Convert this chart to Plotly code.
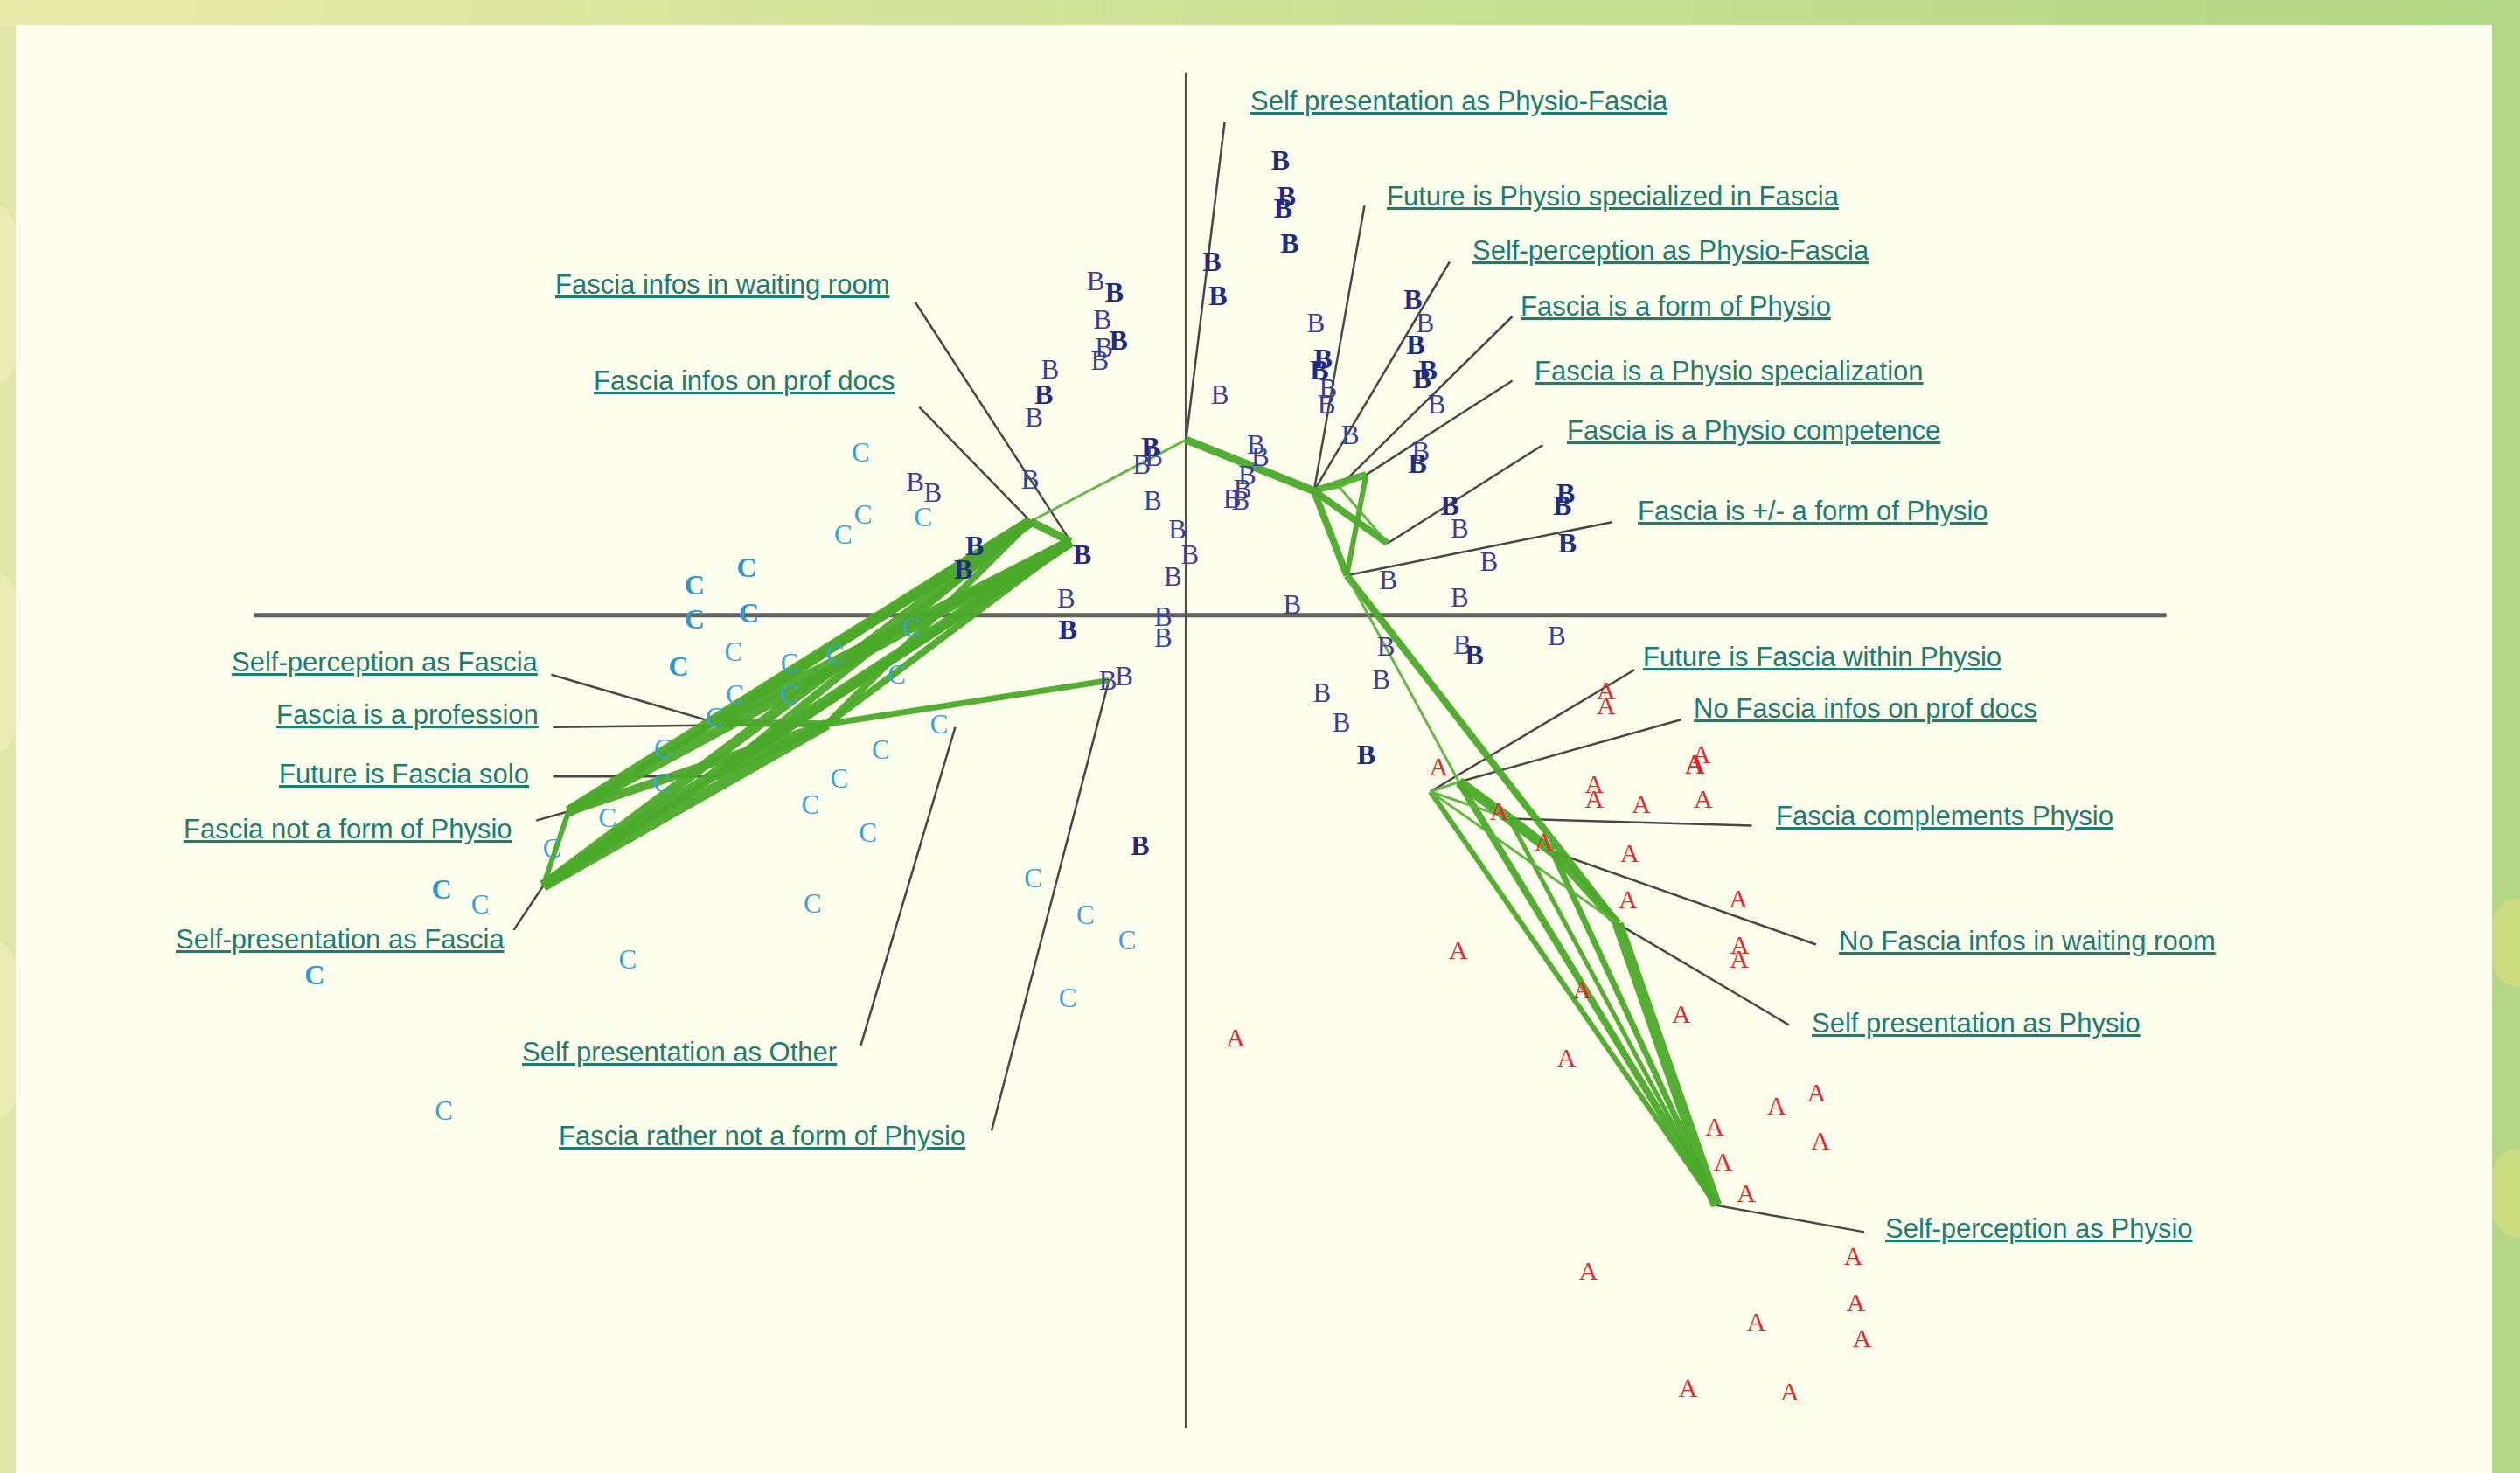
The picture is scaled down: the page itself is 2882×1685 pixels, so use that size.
import plotly.graph_objects as go

# ---------------- data (correspondence-analysis coordinates) ----------------
# modality nodes joined by the green paths
node_names = ["O", "H1", "H2", "H3", "H4", "H5", "A1", "A2", "A4", "A5", "A3", "A6",
              "L1", "L2", "L3", "LB", "L4", "L5", "L6", "L7", "OT"]
node_x = [0.000, 0.398, 0.560, 0.476, 0.627, 0.500, 0.760, 0.849, 1.005, 1.140, 1.343, 1.650,
          -0.484, -0.359, -1.117, -0.240, -1.466, -1.466, -1.921, -2.000, -0.718]
node_y = [0.546, 0.387, 0.437, 0.400, 0.224, 0.124, -0.549, -0.519, -0.633, -0.736, -0.960, -1.837,
          0.292, 0.229, -0.339, -0.203, -0.334, -0.502, -0.611, -0.842, -0.348]

# green path segments (from, to, line weight)
edge_from = ["O", "O", "H1", "H1", "H3", "H2", "H1", "H3", "H1", "H5", "H5",
             "A2", "A4", "A5", "A2", "A1", "A3", "A5", "A4", "A1", "A1", "A1",
             "L1", "L3", "L6",
             "L4", "L4", "L5", "L5", "L6", "L6", "L7", "L7", "L7", "L6", "L5", "L4", "L3",
             "L3", "L4", "L5"]
edge_to = ["L1", "H1", "H2", "H3", "H2", "H5", "H4", "H4", "H5", "A3", "A2",
           "A4", "A5", "A3", "A6", "A6", "A6", "A6", "A6", "A4", "A3", "A2",
           "L2", "LB", "L7",
           "L1", "L2", "L1", "L2", "L1", "L2", "L1", "L2", "L3", "L3", "L3", "L3", "L1",
           "L2", "L6", "L7"]
edge_w = [3, 9, 8, 4, 4, 6, 8, 3, 8, 8, 3,
          12, 12, 10, 8, 6, 13, 7, 5, 3, 3, 3,
          9, 7, 6,
          11, 12, 9, 10, 13, 12, 12, 13, 13, 10, 9, 8, 8,
          8, 6, 6]

# labelled modalities: text, node, label anchor, leader-line end
label_text = ["Self presentation as Physio-Fascia", "Future is Physio specialized in Fascia",
              "Self-perception as Physio-Fascia", "Fascia is a form of Physio",
              "Fascia is a Physio specialization", "Fascia is a Physio competence",
              "Fascia is +/- a form of Physio", "Future is Fascia within Physio",
              "No Fascia infos on prof docs", "Fascia complements Physio",
              "No Fascia infos in waiting room", "Self presentation as Physio",
              "Self-perception as Physio",
              "Fascia infos in waiting room", "Fascia infos on prof docs",
              "Self-perception as Fascia", "Fascia is a profession", "Future is Fascia solo",
              "Fascia not a form of Physio", "Self-presentation as Fascia",
              "Self presentation as Other", "Fascia rather not a form of Physio"]
label_node = ["O", "H1", "H1", "H3", "H2", "H4", "H5", "A1", "A2", "A4", "A5", "A3", "A6",
              "L2", "L1", "L4", "L3", "L5", "L6", "L7", "OT", "LB"]
label_side = ["left"] * 13 + ["right"] * 9
label_x = [0.195, 0.620, 0.885, 1.035, 1.080, 1.180, 1.400, 1.415, 1.575, 1.830, 2.025, 1.940, 2.170,
           -0.915, -0.900, -2.010, -2.010, -2.040, -2.090, -2.115, -1.080, -0.680]
label_y = [1.600, 1.305, 1.135, 0.960, 0.760, 0.575, 0.325, -0.130, -0.290, -0.625, -1.015, -1.270, -1.910,
           1.030, 0.730, -0.145, -0.310, -0.495, -0.665, -1.010, -1.360, -1.620]
leader_x = [0.120, 0.555, 0.820, 1.015, 1.015, 1.110, 1.325, 1.395, 1.540, 1.760, 1.960, 1.875, 2.110,
            -0.843, -0.830, -1.975, -1.967, -1.967, -2.022, -2.092, -1.012, -0.605]
leader_y = [1.535, 1.275, 1.100, 0.930, 0.730, 0.530, 0.290, -0.170, -0.325, -0.655, -1.025, -1.275, -1.920,
            0.975, 0.648, -0.185, -0.348, -0.502, -0.639, -0.980, -1.339, -1.604]

# individuals: group A (red)
a_x = [1.307, 1.307, 0.786, 1.270, 1.270, 1.416, 1.603, 1.583, 1.609, 0.974, 1.114, 1.380, 1.375,
       1.718, 1.723, 1.721, 0.847, 1.232, 1.541, 1.184, 1.645, 1.837, 1.962, 1.671, 1.974, 1.743,
       2.076, 1.252, 2.084, 1.774, 2.103, 1.562, 1.878, 0.154]
a_y = [-0.242, -0.288, -0.479, -0.532, -0.580, -0.594, -0.439, -0.472, -0.580, -0.617, -0.712, -0.747, -0.892,
       -0.888, -1.033, -1.076, -1.049, -1.173, -1.248, -1.384, -1.600, -1.533, -1.494, -1.709, -1.643, -1.805,
       -2.003, -2.049, -2.146, -2.207, -2.259, -2.413, -2.424, -1.322]
a_bold = [0, 0, 0, 0, 0, 0, 0, 1, 0, 0, 0, 0, 0, 0, 0, 0, 0, 0, 0, 0, 0, 0, 0, 0, 0, 0,
          0, 0, 0, 0, 0, 0, 0, 0]

# individuals: group B (dark blue)
b_x = [0.294, 0.313, 0.302, 0.322, 0.080, 0.099, 0.105, 0.404, 0.706, 0.744, 0.714, 0.753, 0.734, 0.780,
       0.426, 0.415, 0.442, 0.437, 0.511, 0.217, 0.231, 0.190, 0.176, 0.143, 0.170, -0.104, -0.110, -0.100,
       -0.138, 0.730, 0.720, 0.821, 0.851, 0.942, 1.181, 1.170, 1.186, 0.629, 0.851, 0.330, -0.071, -0.071,
       -0.027, 0.012, -0.041, 0.622, 0.859, 0.897, 1.153, 0.607, 0.423, 0.483, 0.560, -0.281, -0.223, -0.260,
       -0.210, -0.255, -0.268, -0.423, -0.443, -0.473, -0.843, -0.788, -0.485, -0.658, -0.693, -0.323, -0.373,
       -0.368, -0.243, -0.193, -0.143]
b_y = [1.408, 1.296, 1.260, 1.150, 1.092, 0.986, 0.680, 0.903, 0.975, 0.903, 0.834, 0.757, 0.728, 0.648,
       0.790, 0.757, 0.699, 0.648, 0.553, 0.524, 0.487, 0.429, 0.385, 0.356, 0.349, 0.349, 0.516, 0.487,
       0.461, 0.502, 0.466, 0.334, 0.262, 0.160, 0.371, 0.334, 0.218, 0.101, 0.047, 0.025, -0.011, -0.078,
       0.260, 0.181, 0.113, -0.106, -0.098, -0.130, -0.071, -0.207, -0.250, -0.342, -0.442, 1.034, 0.997, 0.913,
       0.847, 0.825, 0.786, 0.757, 0.680, 0.607, 0.407, 0.374, 0.414, 0.210, 0.135, 0.181, 0.046,
       -0.053, -0.212, -0.198, -0.724]
b_bold = [1, 1, 1, 1, 1, 1, 0, 0, 1, 0, 1, 1, 1, 0,
          1, 1, 0, 0, 0, 0, 0, 0, 0, 0, 0, 0, 1, 0,
          0, 0, 1, 1, 0, 0, 1, 1, 1, 0, 0, 0, 0, 0,
          0, 0, 0, 0, 0, 1, 0, 0, 0, 0, 1, 0, 1, 0,
          1, 0, 0, 0, 1, 0, 0, 0, 0, 1, 1, 1, 0,
          1, 0, 0, 1]

# individuals: group C (light blue)
c_x = [-1.012, -1.005, -1.067, -0.818, -1.367, -1.529, -1.529, -1.360, -1.579, -1.408, -1.233, -1.091,
       -0.900, -1.403, -1.233, -0.768, -0.950, -1.079, -1.169, -0.990, -1.466, -1.627, -1.630, -1.800,
       -1.973, -2.316, -2.196, -1.162, -1.737, -2.711, -2.309, -0.476, -0.313, -0.183, -0.368, -0.853]
c_y = [0.499, 0.305, 0.244, 0.298, 0.140, 0.087, -0.020, -0.001, -0.166, -0.121, -0.156, -0.130,
       -0.193, -0.253, -0.255, -0.348, -0.427, -0.515, -0.596, -0.685, -0.325, -0.423, -0.529, -0.638,
       -0.733, -0.861, -0.907, -0.904, -1.078, -1.126, -1.550, -0.825, -0.941, -1.018, -1.198, -0.044]
c_bold = [0, 0, 0, 0, 1, 1, 1, 1, 1, 0, 0, 0,
          0, 0, 0, 0, 0, 0, 0, 0, 0, 0, 0, 0,
          0, 1, 0, 0, 0, 1, 0, 0, 0, 0, 0, 0]

# principal axes extent
axis_h_x = [-2.90, 3.05]
axis_v_y = [1.69, -2.53]

# ---------------- figure ----------------
W, H = 2882, 1685
pos = {n: (x, y) for n, x, y in zip(node_names, node_x, node_y)}

fig = go.Figure()

# background decoration (page frame)
shapes = []
top = 1 - 30 / H
n_strips = 64
c0 = (232, 235, 168)
c1 = (179, 215, 134)
for i in range(n_strips):
    t = i / (n_strips - 1)
    col = tuple(int(round(c0[k] + (c1[k] - c0[k]) * t)) for k in range(3))
    shapes.append(dict(type="rect", xref="paper", yref="paper",
                       x0=i / n_strips, x1=(i + 1) / n_strips + 0.001, y0=top, y1=1,
                       fillcolor="rgb(%d,%d,%d)" % col, line=dict(width=0), layer="below"))
shapes.append(dict(type="rect", xref="paper", yref="paper", x0=2849 / W, x1=1, y0=0, y1=top,
                   fillcolor="#B3D786", line=dict(width=0), layer="below"))
for (cx, cy, rx, ry, col) in [(0.999, 0.36, 0.012, 0.03, "rgba(205,222,128,0.9)"),
                              (0.999, 0.19, 0.012, 0.03, "rgba(205,222,128,0.9)"),
                              (0.0, 0.8, 0.01, 0.06, "rgba(238,240,185,0.7)"),
                              (0.0, 0.55, 0.01, 0.06, "rgba(238,240,185,0.7)"),
                              (0.0, 0.3, 0.01, 0.06, "rgba(238,240,185,0.7)")]:
    shapes.append(dict(type="circle", xref="paper", yref="paper",
                       x0=cx - rx, x1=cx + rx, y0=cy - ry, y1=cy + ry,
                       fillcolor=col, line=dict(width=0), layer="below"))
shapes.append(dict(type="rect", xref="paper", yref="paper", x0=19 / W, x1=2849 / W, y0=-0.01, y1=top,
                   fillcolor="#FEFEEC", line=dict(color="#FFFFFF", width=2), layer="below"))

# principal axes
fig.add_trace(go.Scatter(x=axis_h_x, y=[0, 0], mode="lines",
                         line=dict(color="#616161", width=5), hoverinfo="skip"))
fig.add_trace(go.Scatter(x=[0, 0], y=axis_v_y, mode="lines",
                         line=dict(color="#4d4d4d", width=3), hoverinfo="skip"))

# leader lines
for node, ex, ey in zip(label_node, leader_x, leader_y):
    nx, ny = pos[node]
    fig.add_trace(go.Scatter(x=[nx, ex], y=[ny, ey], mode="lines",
                             line=dict(color="#474747", width=2.5), hoverinfo="skip"))

# green paths
for f, t, w in zip(edge_from, edge_to, edge_w):
    (x0, y0), (x1, y1) = pos[f], pos[t]
    col = "#4BAA2A" if w >= 5 else "#5DB53E"
    fig.add_trace(go.Scatter(x=[x0, x1], y=[y0, y1], mode="lines",
                             line=dict(color=col, width=w), opacity=0.95, hoverinfo="skip"))

# individuals (drawn over the paths)
def letter_trace(xs, ys, bold_flags, letter, color, want_bold, size):
    px = [x for x, b in zip(xs, bold_flags) if b == want_bold]
    py = [y for y, b in zip(ys, bold_flags) if b == want_bold]
    return go.Scatter(x=px, y=py, mode="text", text=[letter] * len(px),
                      textposition="middle center",
                      textfont=dict(family="Liberation Serif, Times New Roman, serif", size=size,
                                    color=color, weight="bold" if want_bold else "normal"),
                      hoverinfo="skip")

fig.add_trace(letter_trace(c_x, c_y, c_bold, "C", "#36A3DA", 0, 31))
fig.add_trace(letter_trace(c_x, c_y, c_bold, "C", "#2C98D2", 1, 32))
fig.add_trace(letter_trace(a_x, a_y, a_bold, "A", "#E5292E", 0, 30))
fig.add_trace(letter_trace(a_x, a_y, a_bold, "A", "#E0262B", 1, 31))
fig.add_trace(letter_trace(b_x, b_y, b_bold, "B", "#3B3E9C", 0, 31))
fig.add_trace(letter_trace(b_x, b_y, b_bold, "B", "#232A82", 1, 32))

# labels
annotations = []
for txt, side, lx, ly in zip(label_text, label_side, label_x, label_y):
    annotations.append(dict(x=lx, y=ly, xref="x", yref="y", text=txt, showarrow=False,
                            xanchor=side, yanchor="middle",
                            font=dict(family="Liberation Sans, Arial, sans-serif", size=31,
                                      color="#1C7D70", lineposition="under")))

fig.update_layout(
    width=W, height=H, autosize=False,
    margin=dict(l=0, r=0, t=0, b=0, pad=0),
    paper_bgcolor="#DEE7A3", plot_bgcolor="rgba(0,0,0,0)",
    showlegend=False, hovermode=False,
    shapes=shapes, annotations=annotations,
    xaxis=dict(range=[-3.69, 4.15], visible=False, domain=[0, 1], fixedrange=True),
    yaxis=dict(range=[-2.67, 1.915], visible=False, domain=[0, 1], fixedrange=True),
)

fig.write_html("out.html", config={"displayModeBar": False})
